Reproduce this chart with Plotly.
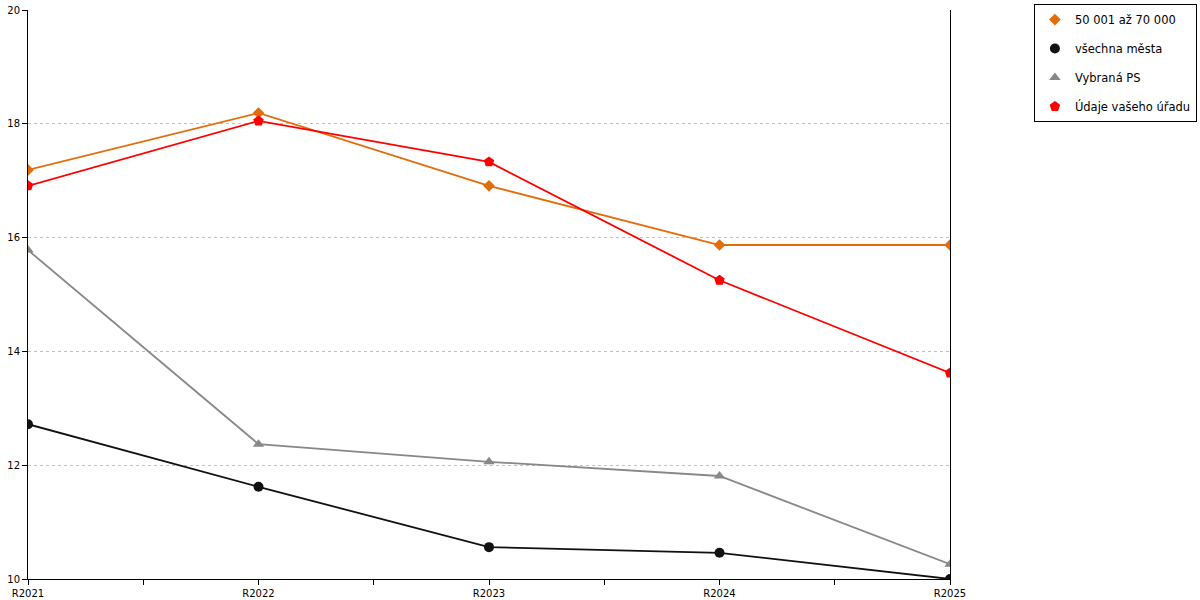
import plotly.graph_objects as go

# data
years = ["R2021", "R2022", "R2023", "R2024", "R2025"]
band_50_70k = [17.19, 18.19, 16.91, 15.87, 15.87]
all_towns = [12.72, 11.62, 10.56, 10.46, 10.0]
selected_ps = [15.78, 12.37, 12.06, 11.81, 10.26]
your_office = [16.91, 18.05, 17.33, 15.25, 13.62]

series = [
    ("50 001 až 70 000", band_50_70k, "#e46c0a", "diamond", 9),
    ("všechna města", all_towns, "#111111", "circle", 10),
    ("Vybraná PS", selected_ps, "#888888", "triangle-up", 10),
    ("Údaje vašeho úřadu", your_office, "#ff0000", "pentagon", 11),
]

x_idx = list(range(len(years)))

fig = go.Figure()
for name, vals, color, symbol, size in series:
    # line without legend entry, markers carry the legend (marker only, no line swatch)
    fig.add_trace(go.Scatter(
        x=x_idx, y=vals, name=name, mode="lines",
        legendgroup=name, showlegend=False, hoverinfo="skip",
        line=dict(color=color, width=1.8),
    ))
    fig.add_trace(go.Scatter(
        x=x_idx, y=vals, name=name, mode="markers",
        legendgroup=name,
        marker=dict(color=color, symbol=symbol, size=size),
    ))

# major ticks on the years, unlabeled ticks between them
tick_vals = [i / 2 for i in range(2 * len(years) - 1)]
tick_text = [years[int(v)] if v == int(v) else "" for v in tick_vals]

fig.update_layout(
    width=1200, height=600,
    margin=dict(l=28, r=250, t=10, b=21, autoexpand=False),
    plot_bgcolor="white", paper_bgcolor="white",
    font=dict(family="DejaVu Sans", size=10, color="#000000"),
    legend=dict(
        x=1.091, y=1.0105, xanchor="left", yanchor="top",
        bordercolor="#000000", borderwidth=1,
        font=dict(size=11.5), tracegroupgap=10,
    ),
)
fig.update_xaxes(
    range=[0, len(years) - 1], tickvals=tick_vals, ticktext=tick_text,
    showgrid=False, zeroline=False, automargin=False,
    ticklabeloverflow="allow",
    showline=True, linecolor="#000000", linewidth=1,
    ticks="outside", ticklen=5, tickcolor="#000000",
)
fig.update_yaxes(
    range=[10, 20], dtick=2,
    showgrid=True, gridcolor="#c0c0c0", griddash="dot", gridwidth=1,
    zeroline=False, automargin=False, ticklabeloverflow="allow",
    showline=True, linecolor="#000000", linewidth=1, mirror=True,
    ticks="outside", ticklen=5, tickcolor="#000000",
)

# drop the default 8px body margin so the figure sits at the window's corner
fig.write_html(
    "out.html",
    config={"displayModeBar": False},
    post_script="document.body.style.margin = '0';",
)
